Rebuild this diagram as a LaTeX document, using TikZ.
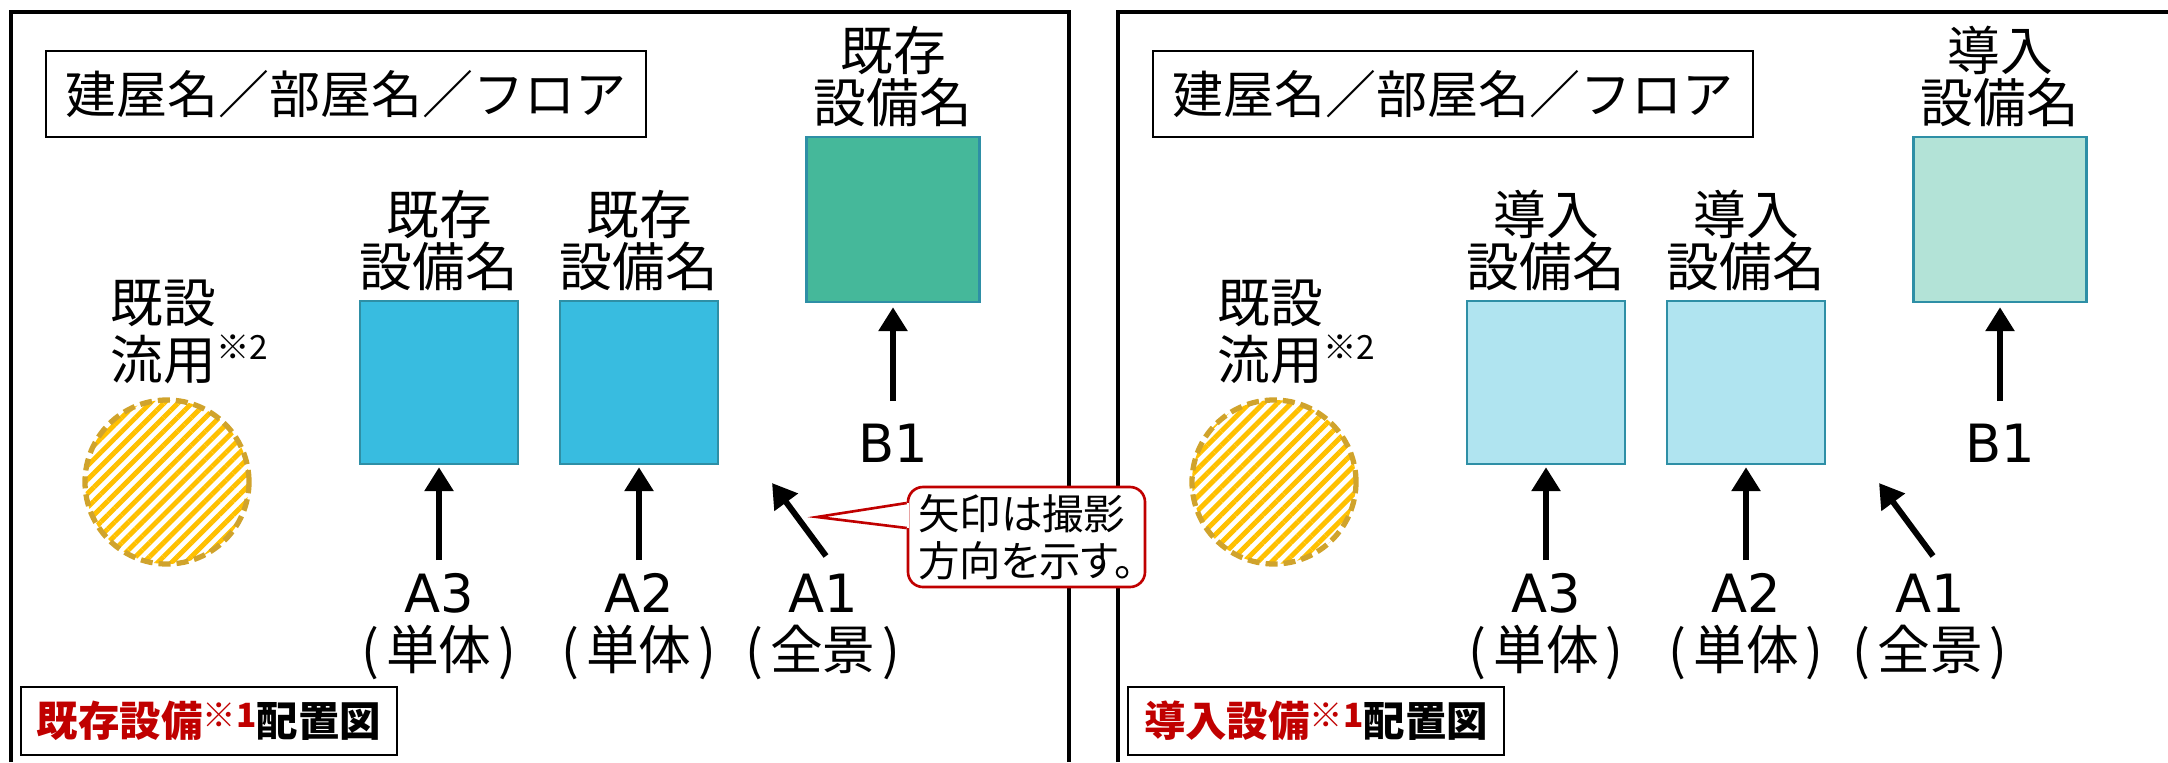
\documentclass[tikz,border=0pt]{standalone}
\usepackage{fontspec}
\setmainfont{Noto Sans CJK JP}
\newfontfamily\latinfont{DejaVu Sans}
\newfontfamily\notefont[RawFeature=+palt]{Noto Sans CJK JP}
\usetikzlibrary{arrows.meta,patterns.meta}

\definecolor{eqblue}{RGB}{56,188,224}
\definecolor{eqgreen}{RGB}{69,184,154}
\definecolor{eqblueL}{RGB}{176,228,240}
\definecolor{eqgreenL}{RGB}{179,227,215}
\definecolor{eqedge}{RGB}{46,143,166}
\definecolor{hatch}{RGB}{255,192,0}
\definecolor{hatchedge}{RGB}{208,163,44}
\definecolor{notered}{RGB}{192,0,0}

\newcommand{\paren}[1]{(\kern2pt#1\kern2pt)}

\tikzset{
  panel/.style={line width=1pt},
  roombox/.style={draw, line width=0.8pt, minimum width=6cm, minimum height=0.86cm, inner sep=0, font=\fontsize{14.5}{14.5}\selectfont},
  unit/.style={draw=eqedge, line width=0.7pt, inner sep=0},
  unitname/.style={anchor=south, inner sep=0, align=center, font=\fontsize{15}{15}\selectfont},
  shotname/.style={anchor=north, inner sep=0, align=center, font=\fontsize{15}{16.2}\selectfont},
  shot/.style={line width=0.06cm, -{Triangle[width=0.28cm,length=0.24cm]}},
  reuse/.style={circle, draw=hatchedge, line width=1.5pt, dash pattern=on 0.12cm off 0.06cm,
    pattern={Lines[angle=45,distance=2.8pt,line width=1.4pt]}, pattern color=hatch, minimum size=1.64cm, inner sep=0},
  mapname/.style={draw, line width=0.6pt, minimum width=3.76cm, minimum height=0.68cm, inner sep=0, font=\bfseries\fontsize{11.8}{11.8}\selectfont},
  note/.style={draw=notered, line width=0.75pt, rounded corners=0.15cm, fill=white, minimum width=2.37cm, minimum height=1cm,
    align=left, inner sep=0.05cm, font=\notefont\fontsize{11.8}{13.4}\selectfont},
}

\begin{document}
\begin{tikzpicture}
\useasboundingbox (0,0) rectangle (21.68,-7.62);
% two panels: existing / new equipment
\foreach \dx/\p/\word/\fillA/\fillB in {0/L/既存/eqblue/eqgreen, 11.07/R/導入/eqblueL/eqgreenL}{
  \begin{scope}[xshift=\dx cm]
    \draw[panel] (0.11,-7.62) |- (10.69,-0.12) -- (10.69,-7.62);
    \node[roombox] (title\p) at (3.46,-0.94) {建屋名／部屋名／フロア};
    % equipment boxes
    \node[unit, fill=\fillB, minimum width=1.73cm, minimum height=1.65cm] (boxB\p) at (8.93,-2.195) {};
    \node[unit, fill=\fillA, minimum width=1.58cm, minimum height=1.63cm] (boxAc\p) at (4.39,-3.825) {};
    \node[unit, fill=\fillA, minimum width=1.58cm, minimum height=1.63cm] (boxAb\p) at (6.39,-3.825) {};
    \node[unitname] (nameB\p) at ([yshift=0.08cm]boxB\p.north) {\word\\設備名};
    \node[unitname] (nameAc\p) at ([yshift=0.08cm]boxAc\p.north) {\word\\設備名};
    \node[unitname] (nameAb\p) at ([yshift=0.08cm]boxAb\p.north) {\word\\設備名};
    % reused equipment
    \node[reuse] (reuse\p) at (1.67,-4.82) {};
    \node[anchor=north west, inner sep=0, align=left, font=\fontsize{15}{16.4}\selectfont] (reusename\p) at (1.10,-2.79)
      {既設\\流用\raisebox{0.2cm}{\fontsize{9.5}{9.5}\selectfont ※2}};
    % shooting points
    \node[shotname] (shotAc\p) at (4.39,-5.73) {{\latinfont A3}\\\paren{単体}};
    \node[shotname] (shotAb\p) at (6.39,-5.73) {{\latinfont A2}\\\paren{単体}};
    \node[shotname] (shotAa\p) at (8.23,-5.73) {{\latinfont A1}\\\paren{全景}};
    \node[shotname] (shotB\p) at (8.93,-4.23) {\latinfont B1};
    \coordinate (tipAa\p) at (7.72,-4.83);
    \draw[shot, shorten >=0.02cm] ([yshift=0.13cm]shotAc\p.north) -- (boxAc\p.south);
    \draw[shot, shorten >=0.02cm] ([yshift=0.13cm]shotAb\p.north) -- (boxAb\p.south);
    \draw[shot, shorten >=0.04cm] ([yshift=0.22cm]shotB\p.north) -- (boxB\p.south);
    \draw[shot] ([shift={(0.03,0.17)}]shotAa\p.north) -- (tipAa\p);
    \node[mapname] (map\p) at (2.09,-7.21)
      {\textcolor{notered}{\word 設備\raisebox{0.09cm}{\fontsize{9.5}{9.5}\selectfont ※1}}配置図};
  \end{scope}
}
% callout
\node[note] (note) at (10.265,-5.37) {矢印は撮影\\方向を示す。};
\coordinate (notetip) at (8.17,-5.17);
\fill[white] ([xshift=0.6pt,yshift=0.34cm]note.west) -- (notetip) -- ([xshift=0.6pt,yshift=0.09cm]note.west) -- cycle;
\draw[draw=notered, line width=0.75pt] ([yshift=0.34cm]note.west) -- (notetip) -- ([yshift=0.09cm]note.west);
\end{tikzpicture}
\end{document}
